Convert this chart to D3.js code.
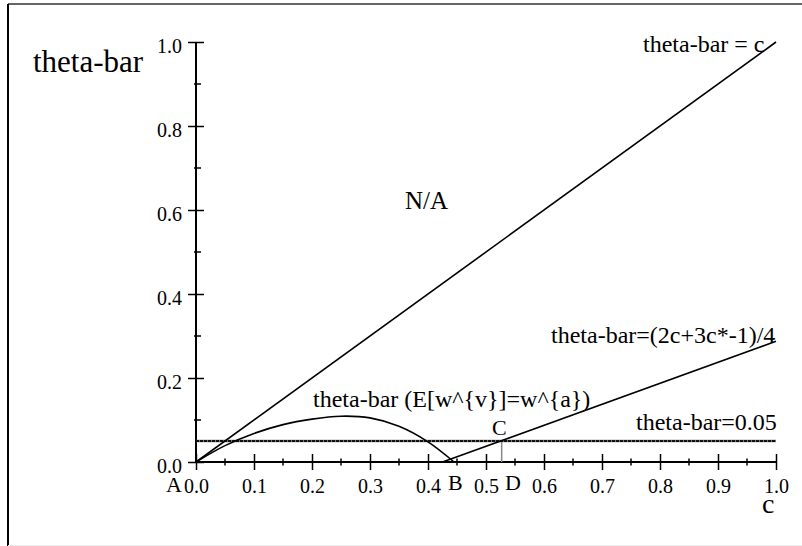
<!DOCTYPE html>
<html>
<head>
<meta charset="utf-8">
<script src="https://cdn.jsdelivr.net/npm/d3@7"></script>
<style>
  body { margin: 0; background: #fff; }
  svg { display: block; }
  text { font-family: "Liberation Serif", "Times New Roman", serif; fill: #000; }
</style>
</head>
<body>
<svg></svg>
<script>
var w = 802, h = 546;

// tick values
var xMajor = [0, 0.1, 0.2, 0.3, 0.4, 0.5, 0.6, 0.7, 0.8, 0.9, 1.0];
var xMinor = [0.05, 0.15, 0.25, 0.35, 0.45, 0.55, 0.65, 0.75, 0.85, 0.95];
var yMajor = [0, 0.2, 0.4, 0.6, 0.8, 1.0];
var yMinor = [0.1, 0.3, 0.5, 0.7, 0.9];

// theta-bar = c
var diagC = [0, 1];
var diagT = [0, 1];
// theta-bar = (2c+3c*-1)/4
var rayC = [0.425, 1.0];
var rayT = [0, 0.2875];
// theta-bar (E[w^{v}]=w^{a})
var arcC = [0, 0.05, 0.1, 0.15, 0.2, 0.25, 0.3, 0.35, 0.4, 0.445];
var arcT = [0, 0.039, 0.068, 0.089, 0.102, 0.109, 0.105, 0.085, 0.048, 0];
// theta-bar = 0.05
var floorT = 0.05;
var pointD = 0.527;

var vis = d3.select("svg").attr("width", w).attr("height", h);

var x = d3.scaleLinear().domain([0, 1]).range([196, 776]);
var y = d3.scaleLinear().domain([0, 1]).range([462, 42]);

// frame
vis.append("line").attr("x1", 8).attr("x2", w).attr("y1", 4).attr("y2", 4)
  .attr("stroke", "#666").attr("stroke-width", 2);
vis.append("line").attr("x1", 8).attr("x2", 8).attr("y1", 4).attr("y2", h)
  .attr("stroke", "#000").attr("stroke-width", 2);
vis.append("line").attr("x1", 8).attr("x2", w).attr("y1", 545.5).attr("y2", 545.5)
  .attr("stroke", "#eee").attr("stroke-width", 1);

var fmt = d3.format(".1f");

// x axis
var xAxis = vis.append("g").attr("transform", "translate(0," + y(0) + ")")
  .call(d3.axisBottom(x).tickValues(xMajor).tickFormat(fmt).tickSizeOuter(0));
xAxis.select(".domain").attr("stroke", "#000").attr("stroke-width", 2)
  .attr("d", "M" + x(0) + ",0H" + x(1));
xAxis.selectAll(".tick line").attr("y1", -8).attr("y2", 8).attr("stroke-width", 1.5);
xAxis.selectAll(".tick text").attr("y", 31).attr("dy", 0)
  .style("font-size", "20px").style("font-family", "Liberation Serif");
xAxis.selectAll(".minor").data(xMinor).enter().append("line")
  .attr("x1", function(d) { return x(d); }).attr("x2", function(d) { return x(d); })
  .attr("y1", -3.5).attr("y2", 3.5).attr("stroke", "#000").attr("stroke-width", 1.5);

// y axis
var yAxis = vis.append("g").attr("transform", "translate(" + x(0) + ",0)")
  .call(d3.axisLeft(y).tickValues(yMajor).tickFormat(fmt).tickSizeOuter(0));
yAxis.select(".domain").attr("stroke", "#000").attr("stroke-width", 2)
  .attr("d", "M0," + y(0) + "V" + y(1));
yAxis.selectAll(".tick line").attr("x1", -8).attr("x2", 8).attr("stroke-width", 1.5);
yAxis.selectAll(".tick text").attr("x", -14).attr("dy", 10)
  .style("font-size", "20px").style("font-family", "Liberation Serif");
yAxis.selectAll(".minor").data(yMinor).enter().append("line")
  .attr("y1", function(d) { return y(d); }).attr("y2", function(d) { return y(d); })
  .attr("x1", -2).attr("x2", 5).attr("stroke", "#000").attr("stroke-width", 1.5);

// D marker
vis.append("line").attr("x1", x(pointD)).attr("x2", x(pointD))
  .attr("y1", y(floorT)).attr("y2", y(0))
  .attr("stroke", "#888").attr("stroke-width", 1.5);

// theta-bar = 0.05
vis.append("line").attr("x1", x(0)).attr("x2", x(1))
  .attr("y1", y(floorT)).attr("y2", y(floorT))
  .attr("stroke", "#777").attr("stroke-width", 2.6);
vis.append("line").attr("x1", x(0)).attr("x2", x(1))
  .attr("y1", y(floorT)).attr("y2", y(floorT))
  .attr("stroke", "#111").attr("stroke-width", 2).attr("stroke-dasharray", "3,1");

var line = d3.line()
  .x(function(d) { return x(d[0]); })
  .y(function(d) { return y(d[1]); });

vis.append("path").datum(d3.zip(diagC, diagT)).attr("d", line)
  .attr("fill", "none").attr("stroke", "#000").attr("stroke-width", 1.6);
vis.append("path").datum(d3.zip(rayC, rayT)).attr("d", line)
  .attr("fill", "none").attr("stroke", "#000").attr("stroke-width", 1.6);
vis.append("path").datum(d3.zip(arcC, arcT)).attr("d", line.curve(d3.curveCatmullRom))
  .attr("fill", "none").attr("stroke", "#000").attr("stroke-width", 1.6);

// labels
function label(txt, px, py, size) {
  vis.append("text").attr("x", px).attr("y", py)
    .style("font-size", size + "px").text(txt);
}
label("theta-bar", 33, 72, 31);
label("theta-bar = c", 643, 52, 24);
label("N/A", 405, 209, 25);
label("theta-bar (E[w^{v}]=w^{a})", 313, 407, 24);
label("theta-bar=(2c+3c*-1)/4", 551, 343, 24);
label("theta-bar=0.05", 636, 430, 24);
label("A", 166, 492, 22);
label("B", 448, 490, 22);
label("C", 492, 435, 22);
label("D", 505, 490, 22);
label("c", 762, 513, 28);
</script>
</body>
</html>
